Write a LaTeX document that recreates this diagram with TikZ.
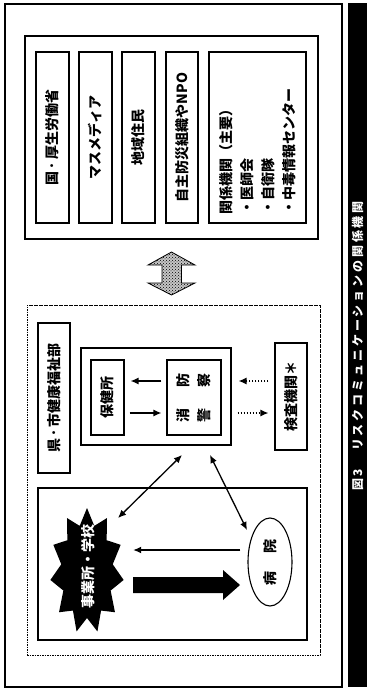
\documentclass[tikz,border=0pt]{standalone}
\usepackage{fontspec}
\setmainfont{Noto Sans CJK JP}
\usetikzlibrary{arrows.meta,fit,patterns,shapes.geometric}
\begin{document}
\begin{tikzpicture}[x=1pt,y=-1pt,
  box/.style={draw, line width=1.1pt, inner sep=0pt},
  dotbox/.style={draw, line width=0.8pt, dash pattern=on 1.6pt off 0.9pt, inner sep=0pt},
  txt/.style={rotate=90, inner sep=0pt, font=\fontsize{14}{21}\selectfont\bfseries},
  tip/.style={-{Latex[length=8pt,width=7pt]}},
  arr/.style={line width=1.3pt, tip},
  darr/.style={line width=1.3pt, {Latex[length=8pt,width=7pt]}-{Latex[length=8pt,width=7pt]}},
  dotarr/.style={line width=1.3pt, dash pattern=on 1.5pt off 1.5pt, tip},
]
\useasboundingbox (0,0) rectangle (367,691);

% outer frame and caption bar
\node[box, fit={(5,4) (342,687)}] (outer) {};
\node[fill=black, inner sep=0pt, fit={(348,3) (367,687)}] (bar) {};
\node[rotate=90, text=white, inner sep=0pt, font=\fontsize{12}{12}\selectfont\bfseries\addfontfeatures{LetterSpace=24}] (cap) at (357.5,346) {図3　リスクコミュニケーションの関係機関};

% upper block
\node[box, fit={(25,36) (318,239)}] (top) {};
\node[box, fit={(36,52) (69,223)}] (b1) {};
\node[box, fit={(79,52) (112,223)}] (b2) {};
\node[box, fit={(122,52) (155,223)}] (b3) {};
\node[box, fit={(166,52) (198,223)}] (b4) {};
\node[box, fit={(209,52) (306,223)}] (b5) {};
\node[txt] (t1) at (b1) {国\,･\,厚生労働省};
\node[txt] (t2) at (b2) {マスメディア};
\node[txt] (t3) at (b3) {地域住民};
\node[txt] (t4) at (b4) {自主防災組織やNPO};
\node[txt, align=left, anchor=north west] (t5) at (219,215) {関係機関（主要）\\・医師会\\・自衛隊\\・中毒情報センター};

% two-way block arrow
\draw[line width=0.8pt, fill=gray!45, postaction={pattern=crosshatch dots}]
  (171.5,252) -- (195,265) -- (181.5,265) -- (181.5,283) -- (195,283) -- (171.5,295)
  -- (148,283) -- (162,283) -- (162,265) -- (148,265) -- cycle;

% lower block
\node[dotbox, fit={(27,305) (320,655)}] (pref) {};
\node[box, fit={(38,323) (70,473)}] (pl) {};
\node[txt] (plt) at (pl) {県\,･\,市健康福祉部};
\node[box, fit={(81,348) (231,445)}] (mid) {};
\node[box, fit={(91,360) (124,435)}] (hc) {};
\node[txt] (hct) at (hc) {保健所};
\node[box, fit={(167,360) (221,435)}] (fp) {};
\node[txt, align=center] (fpt) at (fp) {消\hspace{21pt}防\\警\hspace{21pt}察};
\node[box, fit={(275,343) (307,450)}] (ins) {};
\node[txt] (inst) at (ins) {検査機関＊};

\node[box, fit={(38,488) (307,640)}] (low) {};
\fill[black] plot[domain=0:21, samples=22, variable=\k]
  ({87+(37-11*mod(\k,2))*cos(\k*360/22-90)}, {571+(63-16*mod(\k,2))*sin(\k*360/22-90)}) -- cycle;
\node[inner sep=0pt, fit={(50,510) (123,630)}] (star) {};
\node[txt, text=white] (jg) at (88,566) {事業所・学校};
\node[draw, ellipse, line width=1.1pt, minimum width=44pt, minimum height=88pt, inner sep=0pt] (hosp) at (270,562) {};
\node[txt] (hospt) at (hosp) {病\hspace{18pt}院};

% connectors
\draw[arr, shorten <=5pt, shorten >=6pt] (fp.west |- 0,381) -- (hc.east |- 0,381);
\draw[arr, shorten <=5pt, shorten >=5pt] (hc.east |- 0,413) -- (fp.west |- 0,413);
\draw[dotarr, shorten <=6pt, shorten >=7pt] (ins.west |- 0,381) -- (mid.east |- 0,381);
\draw[dotarr, shorten <=6pt, shorten >=6pt] (mid.east |- 0,413) -- (ins.west |- 0,413);
\coordinate (m1) at (182,455);
\coordinate (s1) at (118,518);
\coordinate (m2) at (210,455);
\coordinate (h2) at (247,530);
\draw[darr] (m1) -- (s1);
\draw[darr] (m2) -- (h2);
\draw[arr, shorten <=7pt, shorten >=10pt] (hosp.west |- 0,550) -- (star.east |- 0,550);
\fill[black] (133,577) -- (223,577) -- (223,570) -- (240,585) -- (223,600) -- (223,593) -- (133,593) -- cycle;
\end{tikzpicture}
\end{document}
